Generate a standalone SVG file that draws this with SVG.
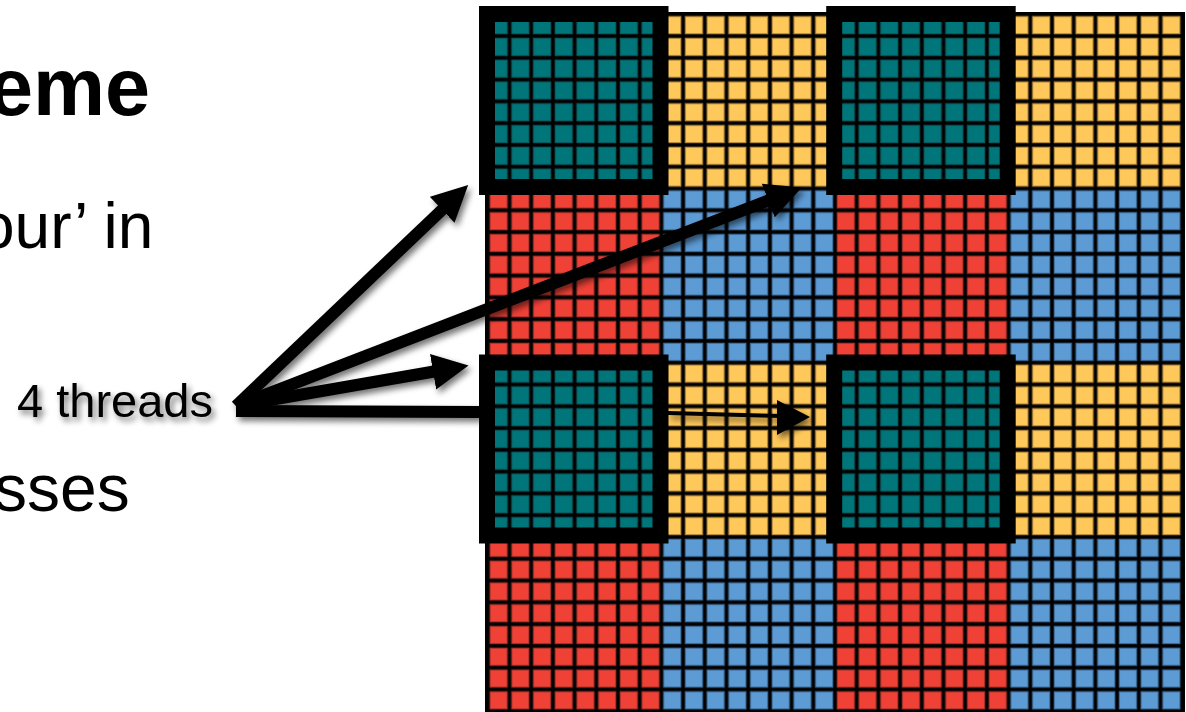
<svg xmlns="http://www.w3.org/2000/svg" width="1186" height="712" viewBox="0 0 1186 712">
<defs>
<style>
.t{font-family:"Liberation Sans",Arial,sans-serif;fill:#000}
.frame{fill:none;stroke:#000;stroke-width:16}
.shaft{stroke:#000;stroke-width:12;fill:none}
</style>
<pattern id="pTeal" patternUnits="userSpaceOnUse" x="487.8" y="14.3" width="21.7" height="21.78"><rect x="2.2" y="2.2" width="17.3" height="17.3" fill="#00757A" stroke="#0b5c60" stroke-width="1"/></pattern>
<pattern id="pYel" patternUnits="userSpaceOnUse" x="487.8" y="14.3" width="21.7" height="21.78"><rect x="2.2" y="2.2" width="17.3" height="17.3" fill="#FFC85A" stroke="#b58a3a" stroke-width="1"/></pattern>
<pattern id="pRed" patternUnits="userSpaceOnUse" x="487.8" y="14.3" width="21.7" height="21.78"><rect x="2.2" y="2.2" width="17.3" height="17.3" fill="#F04137" stroke="#a8332b" stroke-width="1"/></pattern>
<pattern id="pBlue" patternUnits="userSpaceOnUse" x="487.8" y="14.3" width="21.7" height="21.78"><rect x="2.2" y="2.2" width="17.3" height="17.3" fill="#5D9BD5" stroke="#3f6f9c" stroke-width="1"/></pattern>
<filter id="sh" x="-20%" y="-20%" width="140%" height="140%">
<feGaussianBlur in="SourceAlpha" stdDeviation="3"/>
<feOffset dx="3" dy="4" result="b"/>
<feComponentTransfer><feFuncA type="linear" slope="0.55"/></feComponentTransfer>
<feMerge><feMergeNode/><feMergeNode in="SourceGraphic"/></feMerge>
</filter>
<marker id="ah" markerUnits="userSpaceOnUse" markerWidth="40" markerHeight="40" refX="4" refY="18" orient="auto"><path d="M0,0 L36,18 L0,36 Z" fill="#000"/></marker>
</defs>
<rect width="1186" height="712" fill="#fff"/>
<g id="text">
<text class="t" x="-12" y="115" font-size="81" font-weight="bold">eme</text>
<text class="t" x="-21" y="248" font-size="64">our’ in</text>
<text class="t" x="-6" y="511" font-size="66">sses</text>
</g>
<g id="grid">
<rect x="485" y="12" width="700" height="700" fill="#000"/>
<g id="block-r0c0"><rect x="487.8" y="14.3" width="173.6" height="174.24" fill="url(#pTeal)"/></g>
<g id="block-r0c1"><rect x="661.4" y="14.3" width="173.6" height="174.24" fill="url(#pYel)"/></g>
<g id="block-r0c2"><rect x="835" y="14.3" width="173.6" height="174.24" fill="url(#pTeal)"/></g>
<g id="block-r0c3"><rect x="1008.6" y="14.3" width="173.6" height="174.24" fill="url(#pYel)"/></g>
<g id="block-r1c0"><rect x="487.8" y="188.54" width="173.6" height="174.24" fill="url(#pRed)"/></g>
<g id="block-r1c1"><rect x="661.4" y="188.54" width="173.6" height="174.24" fill="url(#pBlue)"/></g>
<g id="block-r1c2"><rect x="835" y="188.54" width="173.6" height="174.24" fill="url(#pRed)"/></g>
<g id="block-r1c3"><rect x="1008.6" y="188.54" width="173.6" height="174.24" fill="url(#pBlue)"/></g>
<g id="block-r2c0"><rect x="487.8" y="362.78" width="173.6" height="174.24" fill="url(#pTeal)"/></g>
<g id="block-r2c1"><rect x="661.4" y="362.78" width="173.6" height="174.24" fill="url(#pYel)"/></g>
<g id="block-r2c2"><rect x="835" y="362.78" width="173.6" height="174.24" fill="url(#pTeal)"/></g>
<g id="block-r2c3"><rect x="1008.6" y="362.78" width="173.6" height="174.24" fill="url(#pYel)"/></g>
<g id="block-r3c0"><rect x="487.8" y="537.02" width="173.6" height="174.24" fill="url(#pRed)"/></g>
<g id="block-r3c1"><rect x="661.4" y="537.02" width="173.6" height="174.24" fill="url(#pBlue)"/></g>
<g id="block-r3c2"><rect x="835" y="537.02" width="173.6" height="174.24" fill="url(#pRed)"/></g>
<g id="block-r3c3"><rect x="1008.6" y="537.02" width="173.6" height="174.24" fill="url(#pBlue)"/></g>
</g>
<g id="frame-1"><rect class="frame" x="487" y="14" width="173.5" height="173"/></g>
<g id="frame-2"><rect class="frame" x="834.2" y="14" width="173.5" height="173"/></g>
<g id="frame-3"><rect class="frame" x="487" y="362.5" width="173.5" height="173"/></g>
<g id="frame-4"><rect class="frame" x="834.2" y="362.5" width="173.5" height="173"/></g>
<g id="label-4threads" filter="url(#sh)">
<text class="t" x="17" y="417" font-size="47">4 threads</text>
</g>
<g id="connectors" filter="url(#sh)">
<line class="shaft" x1="236" y1="406" x2="445" y2="207" marker-end="url(#ah)"/>
<line class="shaft" x1="236" y1="406" x2="772" y2="199" marker-end="url(#ah)"/>
<line class="shaft" x1="236" y1="406" x2="437" y2="371" marker-end="url(#ah)"/>
<line class="shaft" x1="236" y1="411" x2="480" y2="412"/>
<line x1="668" y1="413" x2="782" y2="416" stroke="#000" stroke-width="4"/>
<path d="M777,400 L810,417 L777,435 Z" fill="#000"/>
</g>
</svg>
